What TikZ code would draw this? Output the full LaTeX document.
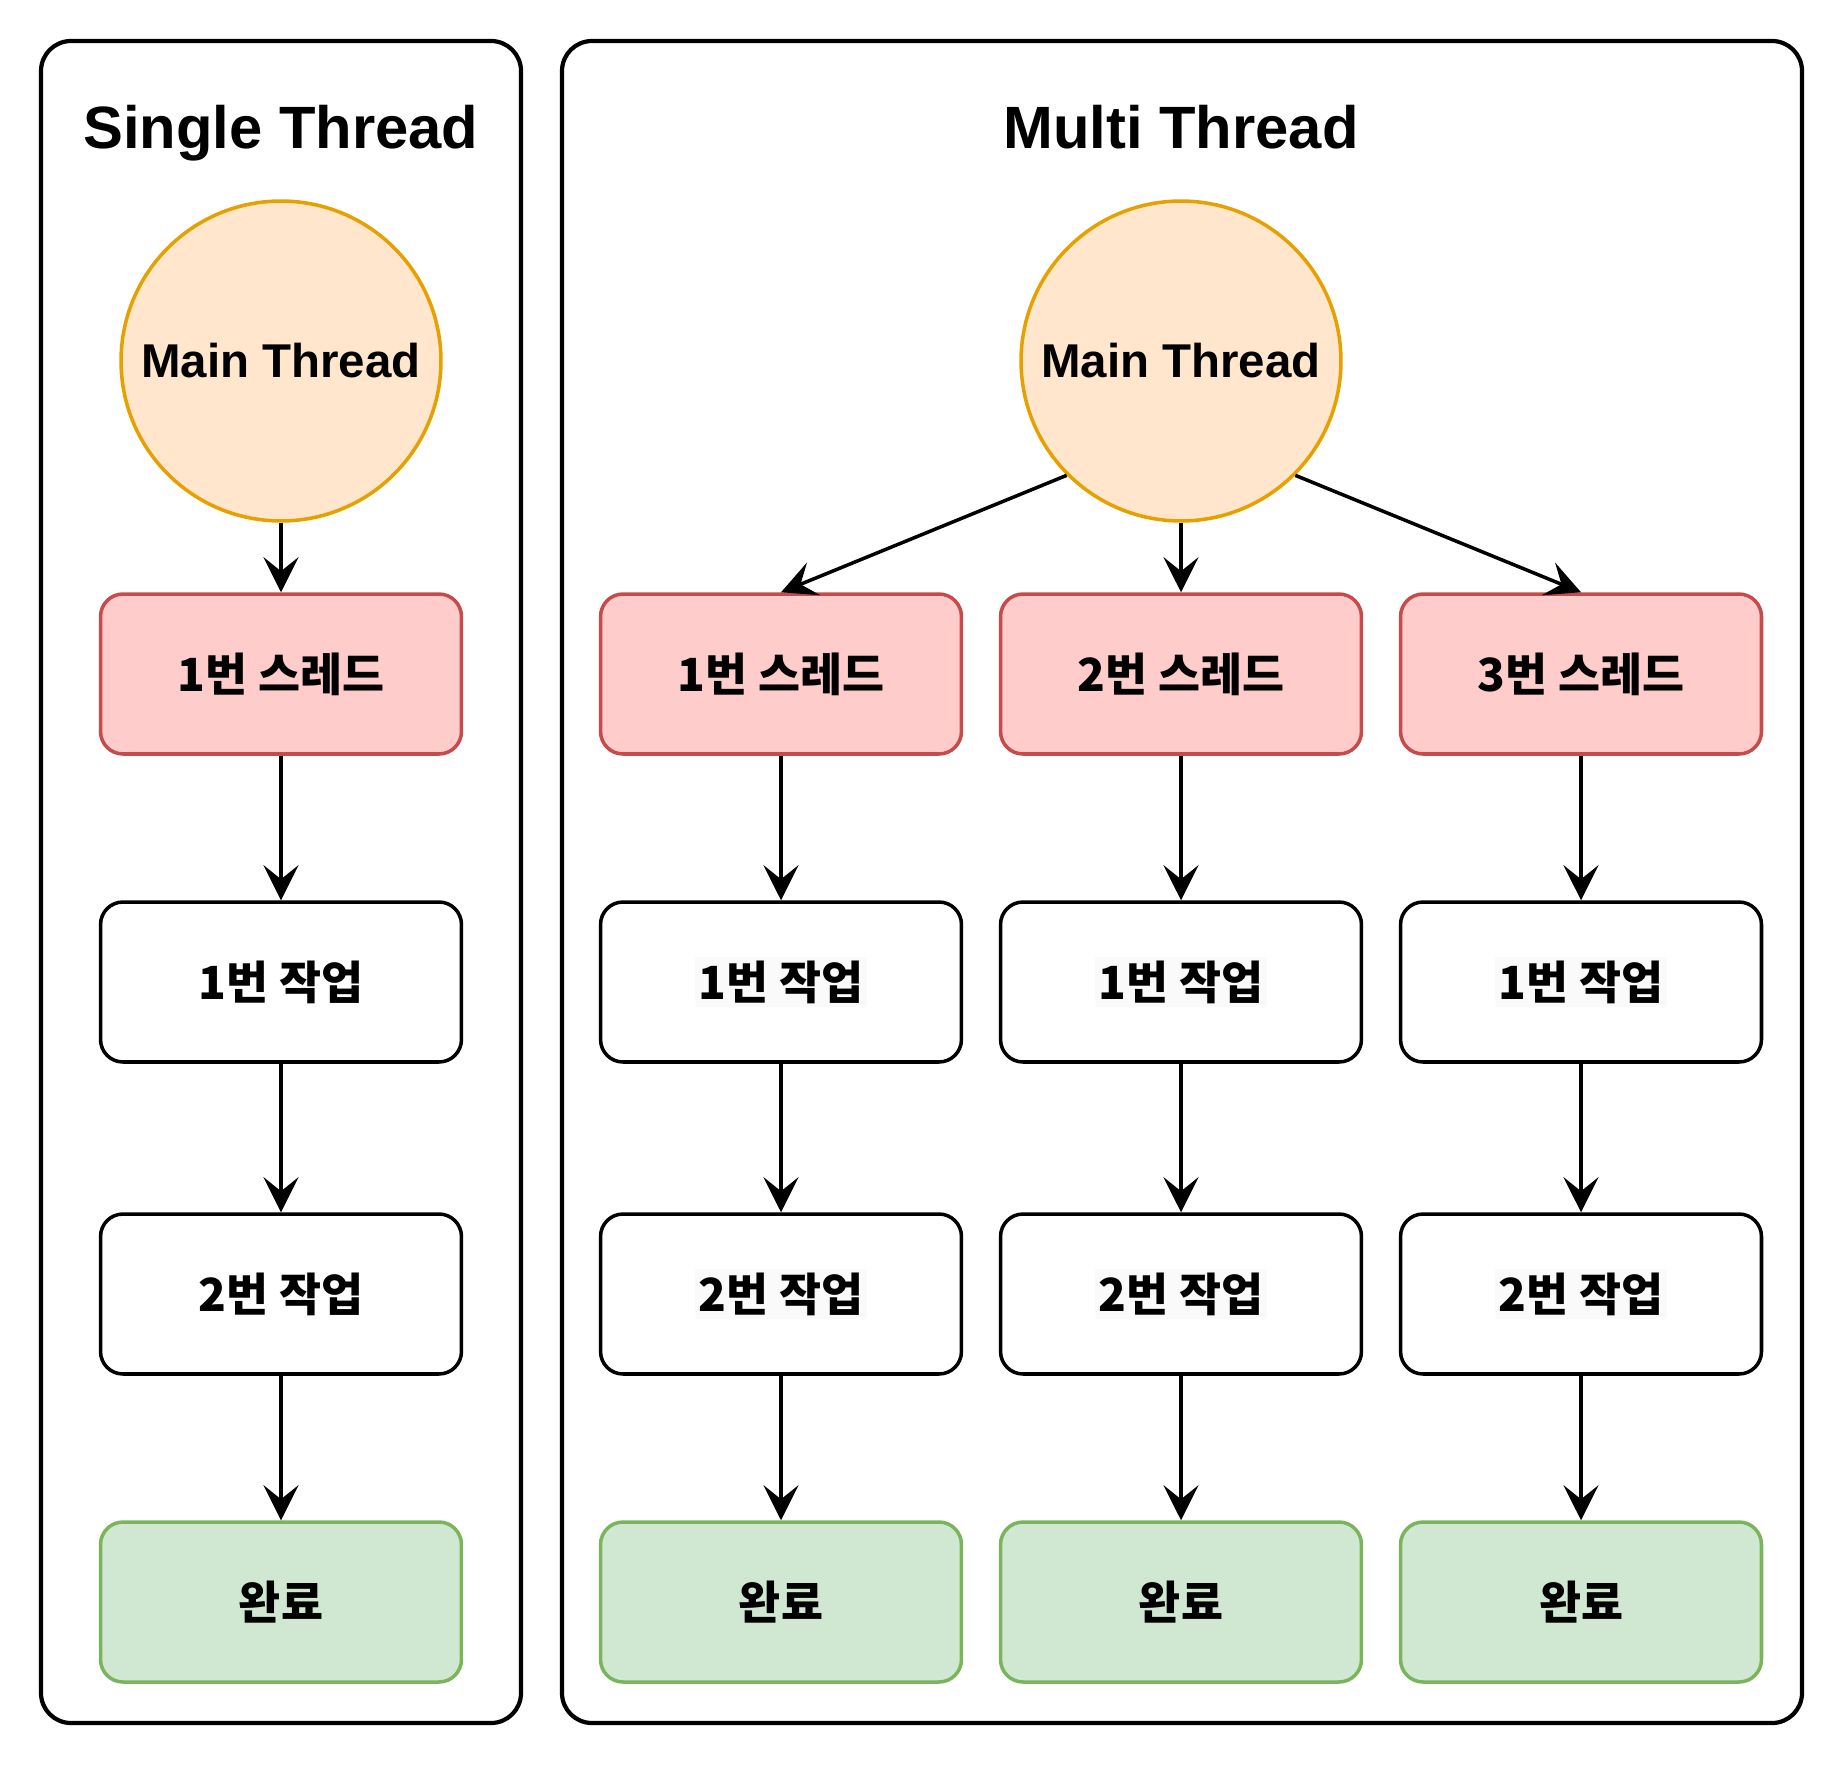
\documentclass[tikz,border=0pt]{standalone}
\usepackage{fontspec}
\setmainfont{Liberation Sans}
\newfontfamily\krfont{Noto Sans CJK KR}
\usetikzlibrary{arrows.meta}

\definecolor{mainfill}{HTML}{FFE6CC}
\definecolor{mainline}{HTML}{E6A000}
\definecolor{threadfill}{HTML}{FFCCCC}
\definecolor{threadline}{HTML}{C84B4B}
\definecolor{donefill}{HTML}{D0E8D2}
\definecolor{doneline}{HTML}{7AB55C}
\definecolor{hlgray}{HTML}{FAFAFA}

\newcommand\jobtext[1]{{\fboxsep=2pt\colorbox{hlgray}{#1}}}

\tikzset{
	paneltitle/.style={anchor=base, font=\fontsize{34}{40}\selectfont\bfseries},
	mainthread/.style={circle, draw=mainline, fill=mainfill, line width=2pt, minimum size=6.4cm, inner sep=0pt, font=\fontsize{27}{32}\selectfont\bfseries},
	taskbox/.style={draw, rounded corners=0.45cm, line width=2pt, minimum width=7.22cm, minimum height=3.2cm, font=\krfont\fontsize{26}{31}\selectfont\bfseries},
	threadbox/.style={taskbox, draw=threadline, fill=threadfill},
	jobbox/.style={taskbox, fill=white},
	donebox/.style={taskbox, draw=doneline, fill=donefill},
	flow/.style={-{Stealth[length=20pt,width=20pt,inset=8pt]}, line width=2pt}
}

\begin{document}
\begin{tikzpicture}[x=0.02cm, y=-0.02cm]
	\useasboundingbox (0,0) rectangle (1844,1764);
	
	% panels
	\draw[line width=2.4pt, rounded corners=0.6cm] (41,41) rectangle (521,1723);
	\draw[line width=2.4pt, rounded corners=0.6cm] (562,41) rectangle (1802,1723);
	\node[paneltitle] (stitle) at (281,149) {Single Thread};
	\node[paneltitle] (mtitle) at (1181,149) {Multi Thread};
	
	% single thread
	\node[mainthread] (smain) at (281,361) {Main Thread};
	\node[threadbox] (sthread) at (281,674) {1번 스레드};
	\node[jobbox] (sjob1) at (281,982) {1번 작업};
	\node[jobbox] (sjob2) at (281,1294) {2번 작업};
	\node[donebox] (sdone) at (281,1602) {완료};
	
	\draw[flow] (smain.south) -- (sthread.north);
	\draw[flow] (sthread) -- (sjob1);
	\draw[flow] (sjob1) -- (sjob2);
	\draw[flow] (sjob2) -- (sdone);
	
	% multi thread
	\node[mainthread] (mmain) at (1181,361) {Main Thread};
	
	\node[threadbox] (mthreadA) at (781,674) {1번 스레드};
	\node[threadbox] (mthreadB) at (1181,674) {2번 스레드};
	\node[threadbox] (mthreadC) at (1581,674) {3번 스레드};
	
	\node[jobbox] (mjob1A) at (781,982) {\jobtext{1번 작업}};
	\node[jobbox] (mjob1B) at (1181,982) {\jobtext{1번 작업}};
	\node[jobbox] (mjob1C) at (1581,982) {\jobtext{1번 작업}};
	
	\node[jobbox] (mjob2A) at (781,1294) {\jobtext{2번 작업}};
	\node[jobbox] (mjob2B) at (1181,1294) {\jobtext{2번 작업}};
	\node[jobbox] (mjob2C) at (1581,1294) {\jobtext{2번 작업}};
	
	\node[donebox] (mdoneA) at (781,1602) {완료};
	\node[donebox] (mdoneB) at (1181,1602) {완료};
	\node[donebox] (mdoneC) at (1581,1602) {완료};
	
	\draw[flow] (mmain.south west) -- (mthreadA.north);
	\draw[flow] (mmain.south) -- (mthreadB.north);
	\draw[flow] (mmain.south east) -- (mthreadC.north);
	
	\draw[flow] (mthreadA) -- (mjob1A);
	\draw[flow] (mthreadB) -- (mjob1B);
	\draw[flow] (mthreadC) -- (mjob1C);
	\draw[flow] (mjob1A) -- (mjob2A);
	\draw[flow] (mjob1B) -- (mjob2B);
	\draw[flow] (mjob1C) -- (mjob2C);
	\draw[flow] (mjob2A) -- (mdoneA);
	\draw[flow] (mjob2B) -- (mdoneB);
	\draw[flow] (mjob2C) -- (mdoneC);
	
\end{tikzpicture}
\end{document}
